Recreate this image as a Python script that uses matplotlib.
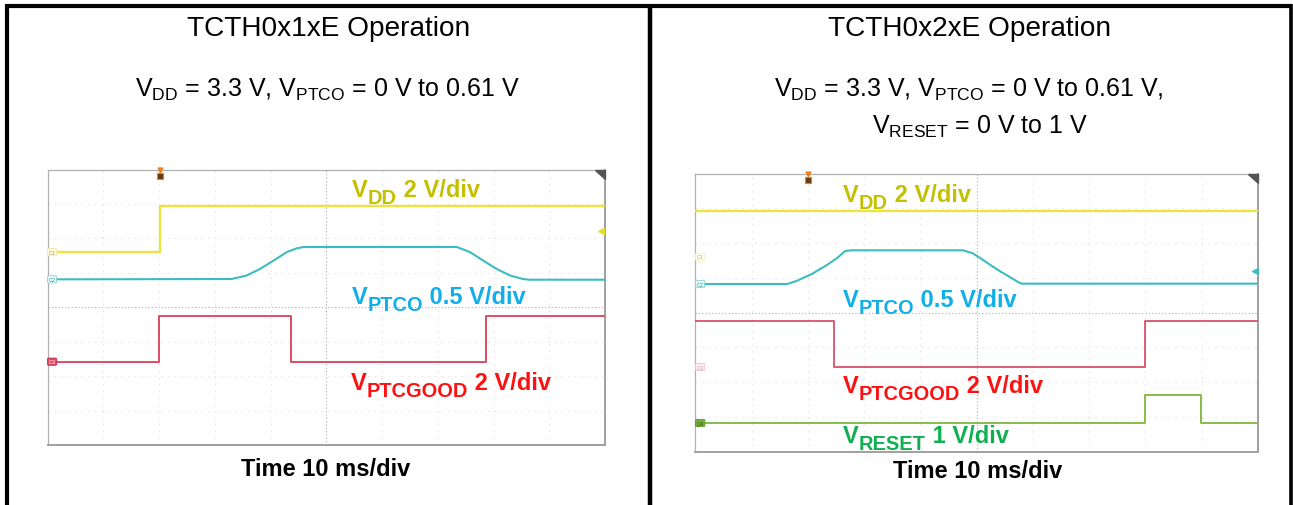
import matplotlib.pyplot as plt
from matplotlib.lines import Line2D

plt.rcParams['font.family'] = ['Liberation Sans', 'DejaVu Sans']

W, H = 1293, 506

# time in ms (10 ms/div, 10 div), level in screen divisions (0 = bottom, 8 = top)
# --- TCTH0x1xE
l_vdd_t = [0, 20.1, 20.1, 100]
l_vdd_y = [5.60, 5.60, 6.94, 6.94]
l_ptco_t = [0, 33.0, 35.7, 38.1, 40.5, 42.9, 44.7, 45.9, 73.4, 75.8, 78.2, 80.6, 83.0, 85.3, 86.5, 100]
l_ptco_y = [4.81, 4.82, 4.92, 5.11, 5.35, 5.60, 5.71, 5.75, 5.75, 5.60, 5.35, 5.11, 4.92, 4.82, 4.80, 4.80]
l_good_t = [0, 20.0, 20.0, 43.6, 43.6, 78.7, 78.7, 100]
l_good_y = [2.42, 2.42, 3.75, 3.75, 2.42, 2.42, 3.75, 3.75]

# --- TCTH0x2xE
r_vdd_t = [0, 100]
r_vdd_y = [6.93, 6.93]
r_ptco_t = [0, 16.3, 18.0, 20.7, 23.4, 25.2, 26.6, 27.8, 47.5, 49.2, 50.6, 52.4, 54.1, 55.9, 57.3, 58.0, 100]
r_ptco_y = [4.82, 4.82, 4.91, 5.11, 5.37, 5.57, 5.77, 5.79, 5.79, 5.71, 5.57, 5.37, 5.19, 5.02, 4.88, 4.83, 4.83]
r_good_t = [0, 24.7, 24.7, 79.9, 79.9, 100]
r_good_y = [3.75, 3.75, 2.43, 2.43, 3.75, 3.75]
r_reset_t = [0, 79.9, 79.9, 89.9, 89.9, 100]
r_reset_y = [0.82, 0.82, 1.63, 1.63, 0.82, 0.82]

titles = ['TCTH0x1xE Operation', 'TCTH0x2xE Operation']
cond_left = r'$\mathregular{V_{DD}}$ = 3.3 V, $\mathregular{V_{PTCO}}$ = 0 V to 0.61 V'
cond_right = [r'$\mathregular{V_{DD}}$ = 3.3 V, $\mathregular{V_{PTCO}}$ = 0 V to 0.61 V,',
              r'$\mathregular{V_{RESET}}$ = 0 V to 1 V']
# scope labels: (subscript, scale text)
lbl_vdd = ('DD', ' 2 V/div')
lbl_ptco = ('PTCO', ' 0.5 V/div')
lbl_good = ('PTCGOOD', ' 2 V/div')
lbl_reset = ('RESET', ' 1 V/div')

YEL, CYA, RED, GRN = '#eee23c', '#3cbcbf', '#e04a64', '#86bd4a'
YEL_T, CYA_T, RED_T, GRN_T = '#c4c000', '#12aee8', '#ff1010', '#10b050'

fig = plt.figure(figsize=(W / 100, H / 100), dpi=100)
rend = fig.canvas.get_renderer()


def px_text(x, y, s, **kw):
    return fig.text(x / W, 1 - y / H, s, **kw)


def px_line(xs, ys, **kw):
    fig.add_artist(Line2D([x / W for x in xs], [1 - y / H for y in ys], **kw))


def scope_label(x, y, lbl, color, size=17.0):
    # V, bigger-than-mathtext subscript, then the scale text
    sub, rest = lbl
    kw = dict(ha='left', va='baseline', fontweight='bold', color=color)
    cur = x
    for txt, fs, dy in [('V', size, 0), (sub, size * 0.85, size * 0.42), (rest, size, 0)]:
        t = px_text(cur, y + dy, txt, fontsize=fs, **kw)
        cur += t.get_window_extent(renderer=rend).width


def scope(x0, y0, x1, y1):
    ax = fig.add_axes([x0 / W, 1 - y1 / H, (x1 - x0) / W, (y1 - y0) / H])
    ax.set_xlim(0, 100)
    ax.set_ylim(0, 8)
    ax.set_xticks([])
    ax.set_yticks([])
    for i in range(1, 10):
        ax.axvline(i * 10, color='#dcdcdc', lw=0.8, ls=(0, (1, 5)), zorder=0)
    for j in range(1, 8):
        ax.axhline(j, color='#dcdcdc', lw=0.8, ls=(0, (1, 5)), zorder=0)
    ax.axvline(50, color='#b4b4b4', lw=0.8, ls=(0, (1, 2)), zorder=0)
    ax.axhline(4, color='#b4b4b4', lw=0.8, ls=(0, (1, 2)), zorder=0)
    for s in ['top', 'left']:
        ax.spines[s].set_color('#b0b0b0')
        ax.spines[s].set_linewidth(0.9)
    for s in ['bottom', 'right']:
        ax.spines[s].set_color('#a0a0a0')
        ax.spines[s].set_linewidth(1.4)
    # corner triangle
    ax.fill([0.982, 1.0, 1.0], [1.0, 1.0, 0.965], transform=ax.transAxes,
            color='#555555', clip_on=False, zorder=5)
    return ax


def chan_tag(ax, y, name, face, edge, tc):
    ax.text(0.2, y, name, fontsize=4, color=tc, ha='left', va='center', zorder=6,
            bbox=dict(boxstyle='round,pad=0.2', fc=face, ec=edge, lw=0.6))


def trigger(ax, t):
    ax.plot([t], [7.98], marker='v', ms=3.5, color='#f08020', clip_on=False, zorder=6)
    ax.plot([t], [7.82], marker='s', ms=4.5, mfc='#6a3a10', mec='#e08030', mew=0.8, zorder=6)


# table frame
px_line([5, 1292], [7, 7], color='black', lw=3.0, solid_capstyle='butt')
px_line([7, 7], [5, 506], color='black', lw=3.0, solid_capstyle='butt')
px_line([650, 650], [5, 506], color='black', lw=3.2, solid_capstyle='butt')
px_line([1290.5, 1290.5], [5, 506], color='black', lw=2.6, solid_capstyle='butt')

# headers
px_text(329, 36, titles[0], ha='center', va='baseline', fontsize=20.2)
px_text(970, 36, titles[1], ha='center', va='baseline', fontsize=20.2)
px_text(327, 97, cond_left, ha='center', va='baseline', fontsize=18)
px_text(969, 97, cond_right[0], ha='center', va='baseline', fontsize=18)
px_text(980, 134, cond_right[1], ha='center', va='baseline', fontsize=18)

# left scope
axl = scope(47.5, 170.5, 605, 446)
axl.plot(l_vdd_t, l_vdd_y, color=YEL, lw=1.7, zorder=3)
axl.plot(l_ptco_t, l_ptco_y, color=CYA, lw=1.5, zorder=3)
axl.plot(l_good_t, l_good_y, color=RED, lw=1.4, zorder=3)
chan_tag(axl, l_vdd_y[0], 'C1', '#fffbe6', '#f0e8a0', '#b0a040')
chan_tag(axl, l_ptco_y[0], 'C2', '#e6f8f8', '#8ad4d4', '#3a9a9a')
chan_tag(axl, l_good_y[0], 'C3', '#e04a64', '#c03050', 'white')
trigger(axl, l_vdd_t[1])
axl.plot([99.3], [6.21], marker='<', ms=4, color='#e8dc30', zorder=6, clip_on=False)

# right scope
axr = scope(695.5, 174.5, 1258, 452.5)
axr.plot(r_vdd_t, r_vdd_y, color=YEL, lw=1.7, zorder=3)
axr.plot(r_ptco_t, r_ptco_y, color=CYA, lw=1.5, zorder=3)
axr.plot(r_good_t, r_good_y, color='#d8506a', lw=1.3, zorder=3)
axr.plot(r_reset_t, r_reset_y, color=GRN, lw=1.4, zorder=3)
chan_tag(axr, 5.6, 'C1', '#fffdf0', '#f6f0c8', '#c0b060')
chan_tag(axr, r_ptco_y[0], 'C2', '#e6f8f8', '#8ad4d4', '#3a9a9a')
chan_tag(axr, r_good_y[2], 'C3', '#fff0f4', '#f4c0cc', '#e090a0')
chan_tag(axr, r_reset_y[0], 'C4', '#7ab040', '#5a9a30', '#2a4a10')
trigger(axr, 20.0)
axr.plot([99.5], [5.19], marker='<', ms=4, color='#3cbcbf', zorder=6, clip_on=False)

# scope labels
scope_label(352, 197, lbl_vdd, YEL_T)
scope_label(352, 304, lbl_ptco, CYA_T)
scope_label(351, 390, lbl_good, RED_T)
scope_label(843, 202, lbl_vdd, YEL_T)
scope_label(843, 307, lbl_ptco, CYA_T)
scope_label(843, 393, lbl_good, RED_T)
scope_label(843, 443, lbl_reset, GRN_T)

px_text(326, 476, 'Time 10 ms/div', ha='center', va='baseline', fontsize=17, fontweight='bold')
px_text(978, 478, 'Time 10 ms/div', ha='center', va='baseline', fontsize=17, fontweight='bold')

fig.savefig('out.png', dpi=100, facecolor='white')
